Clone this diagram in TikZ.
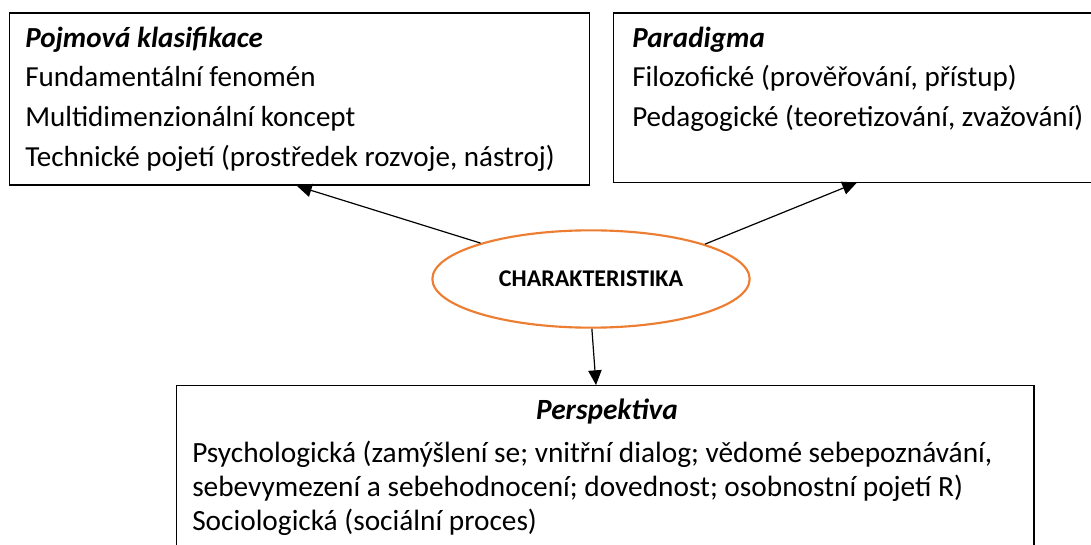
\documentclass[tikz,border=0pt]{standalone}
\usepackage{fontspec}
\setmainfont{Carlito}
\usetikzlibrary{arrows.meta,shapes.geometric}
\definecolor{ellorange}{HTML}{ED7D31}
\tikzset{
  x=0.75pt, y=-0.75pt,
  frame/.style={draw=black, line width=1pt, fill=white, inner sep=0pt},
  txt/.style={anchor=base west, inner sep=0pt, font=\fontsize{21.8}{26}\selectfont},
  ttl/.style={txt, font=\fontsize{21.8}{26}\selectfont\bfseries\itshape},
  btxt/.style={anchor=base west, inner sep=0pt, font=\fontsize{22}{26}\selectfont},
  link/.style={draw=black, line width=0.9pt, -{Triangle[length=11pt,width=10pt]}},
}
\begin{document}
\begin{tikzpicture}
\clip (0,0) rectangle (1091,545);
\fill[white] (0,0) rectangle (1091,545);

% boxes
\node[frame, minimum width=435pt, minimum height=129pt, anchor=north west] (b1) at (9,12.5) {};
\node[frame, minimum width=400pt, minimum height=127pt, anchor=north west] (b2) at (613,12.5) {};
\node[frame, minimum width=643pt, minimum height=160pt, anchor=north west] (b3) at (176,385) {};

% central ellipse
\node[ellipse, draw=ellorange, line width=1.6pt, fill=white, minimum width=238pt, minimum height=73pt, inner sep=0pt,
      font=\fontsize{18}{20}\selectfont\bfseries] (ell) at (591,279) {CHARAKTERISTIKA};

% left box text
\node[ttl] (t11) at (25,48) {Pojmová klasifikace};
\node[txt] (t12) at (25,87) {Fundamentální fenomén};
\node[txt] (t13) at (25,127) {Multidimenzionální koncept};
\node[txt] (t14) at (25,167) {Technické pojetí (prostředek rozvoje, nástroj)};

% right box text
\node[ttl] (t21) at (632,48) {Paradigma};
\node[txt] (t22) at (632,87) {Filozofické (prověřování, přístup)};
\node[txt] (t23) at (632,127) {Pedagogické (teoretizování, zvažování)};

% bottom box text
\node[ttl, anchor=base, font=\fontsize{22}{26}\selectfont\bfseries\itshape] (t31) at (607,419) {Perspektiva};
\node[btxt] (t32) at (192,462) {Psychologická (zamýšlení se; vnitřní dialog; vědomé sebepoznávání,};
\node[btxt] (t33) at (192,496) {sebevymezení a sebehodnocení; dovednost; osobnostní pojetí R)};
\node[btxt] (t34) at (192,530) {Sociologická (sociální proces)};

% connectors
\coordinate (p1) at (297,186);
\coordinate (p2) at (857,182.5);
\coordinate (p3) at (596,385);
\draw[link] (ell.162) -- (p1);
\draw[link] (ell.17) -- (p2);
\draw[link] (ell.-89) -- (p3);
\end{tikzpicture}
\end{document}
